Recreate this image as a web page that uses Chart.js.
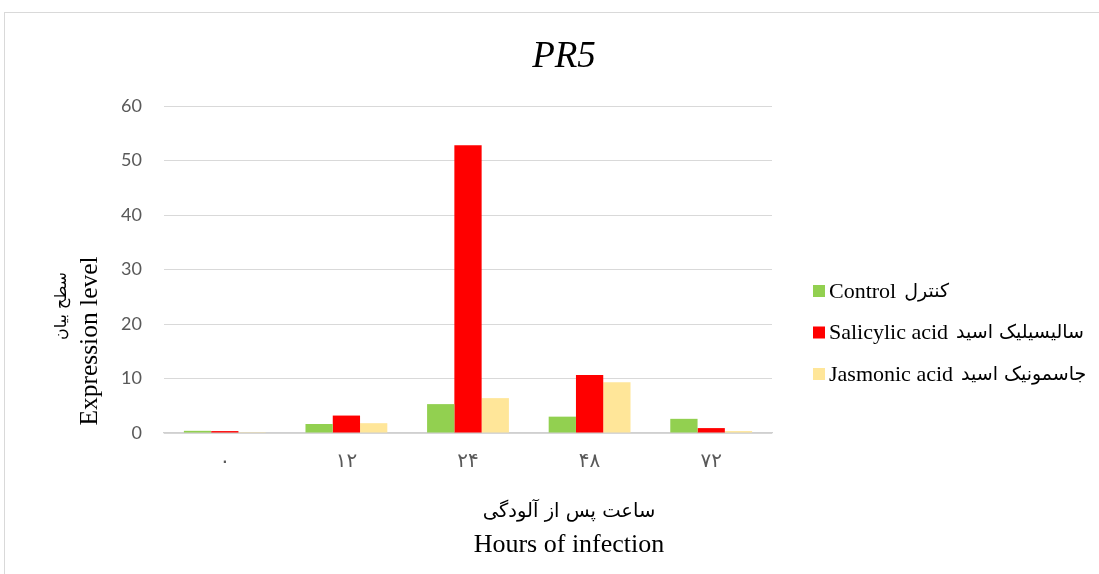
<!DOCTYPE html>
<html lang="fa">
<head>
  <meta charset="UTF-8" />
  <title>PR5</title>
  <script src="https://cdn.jsdelivr.net/npm/chart.js"></script>
  <style>
    html, body { margin: 0; padding: 0; background: #fff; overflow: hidden; }
    .frame {
      position: absolute;
      left: 4px;
      top: 12px;
      width: 1118px;
      height: 599px;
      border: 1px solid #d9d9d9;
      border-bottom: none;
    }
    #pr5Chart { display: block; }
  </style>
</head>
<body>
  <div class="frame">
    <canvas id="pr5Chart"></canvas>
  </div>

  <script>
    // data
    const hours = ['۰', '۱۲', '۲۴', '۴۸', '۷۲'];
    const control = [0.4, 1.65, 5.3, 3.0, 2.6];
    const salicylic = [0.35, 3.2, 52.8, 10.65, 0.9];
    const jasmonic = [0.15, 1.8, 6.4, 9.3, 0.35];
    const seriesEn = ['Control', 'Salicylic acid', 'Jasmonic acid'];
    const seriesFa = ['کنترل', 'سالیسیلیک اسید', 'جاسمونیک اسید'];
    const yTicks = [0, 10, 20, 30, 40, 50, 60];
    const yTitle = ['سطح بیان', 'Expression level'];
    const xTitle = ['ساعت پس از آلودگی', 'Hours of infection'];

    const serif = '"Liberation Serif", "Times New Roman", serif';
    const arabic = '"DejaVu Sans", sans-serif';

    // axis titles and the key are drawn by hand: Word puts them off-centre
    const sideText = {
      id: 'sideText',
      afterDraw(chart) {
        const c = chart.ctx;
        c.save();
        c.fillStyle = '#000';
        c.textBaseline = 'middle';

        // x title
        c.textAlign = 'center';
        c.font = '19.5px ' + arabic;
        c.fillText(xTitle[0], 564, 499);
        c.font = '26px ' + serif;
        c.fillText(xTitle[1], 564, 532);

        // y title, two rotated lines
        c.save();
        c.translate(57, 293);
        c.rotate(-Math.PI / 2);
        c.font = '16px ' + arabic;
        c.fillText(yTitle[0], 0, 0);
        c.restore();
        c.save();
        c.translate(85, 328);
        c.rotate(-Math.PI / 2);
        c.font = '25.5px ' + serif;
        c.fillText(yTitle[1], 0, 0);
        c.restore();

        // key
        c.textAlign = 'left';
        chart.data.datasets.forEach((ds, i) => {
          const y = 278 + i * 41.5;
          c.fillStyle = ds.backgroundColor;
          c.fillRect(808, y - 6, 12, 12);
          c.fillStyle = '#000';
          c.font = '22px ' + serif;
          c.fillText(seriesEn[i], 824, y + 1);
          const w = c.measureText(seriesEn[i]).width;
          c.font = '19px ' + arabic;
          c.fillText(seriesFa[i], 824 + w + 8, y + 1);
        });
        c.restore();
      }
    };

    const ctx = document.getElementById('pr5Chart').getContext('2d');
    new Chart(ctx, {
      type: 'bar',
      data: {
        labels: hours,
        datasets: [
          { label: seriesEn[0] + ' ' + seriesFa[0], data: control, backgroundColor: '#92D050' },
          { label: seriesEn[1] + ' ' + seriesFa[1], data: salicylic, backgroundColor: '#FF0000' },
          { label: seriesEn[2] + ' ' + seriesFa[2], data: jasmonic, backgroundColor: '#FFE699' }
        ]
      },
      plugins: [sideText],
      options: {
        responsive: true,
        maintainAspectRatio: false,
        animation: false,
        layout: { padding: 0 },
        datasets: {
          bar: { categoryPercentage: 0.673, barPercentage: 1 }
        },
        scales: {
          x: {
            grid: { display: false, drawTicks: false },
            border: { color: '#d0d0d0', width: 1.3 },
            ticks: {
              color: '#595959',
              padding: 17,
              font: { family: arabic, size: 20 }
            },
            afterFit(s) { s.height = 179; }
          },
          y: {
            min: 0,
            max: 60,
            afterBuildTicks(s) { s.ticks = yTicks.map(v => ({ value: v })); },
            grid: { color: '#d9d9d9', lineWidth: 1, drawTicks: false },
            border: { display: false },
            ticks: {
              color: '#595959',
              padding: 22,
              font: { family: 'Lato, "Open Sans", sans-serif', size: 18 }
            },
            afterFit(s) { s.width = 159; }
          },
          gap: {
            type: 'linear',
            position: 'right',
            display: true,
            grid: { display: false },
            border: { display: false },
            ticks: { display: false },
            afterFit(s) { s.width = 351; }
          }
        },
        plugins: {
          tooltip: { enabled: false },
          legend: { display: false },
          title: {
            display: true,
            text: 'PR5',
            color: '#000',
            font: { family: serif, size: 37, style: 'italic', weight: 'normal' },
            padding: { top: 22, bottom: 26.6 }
          }
        }
      }
    });
  </script>
</body>
</html>
